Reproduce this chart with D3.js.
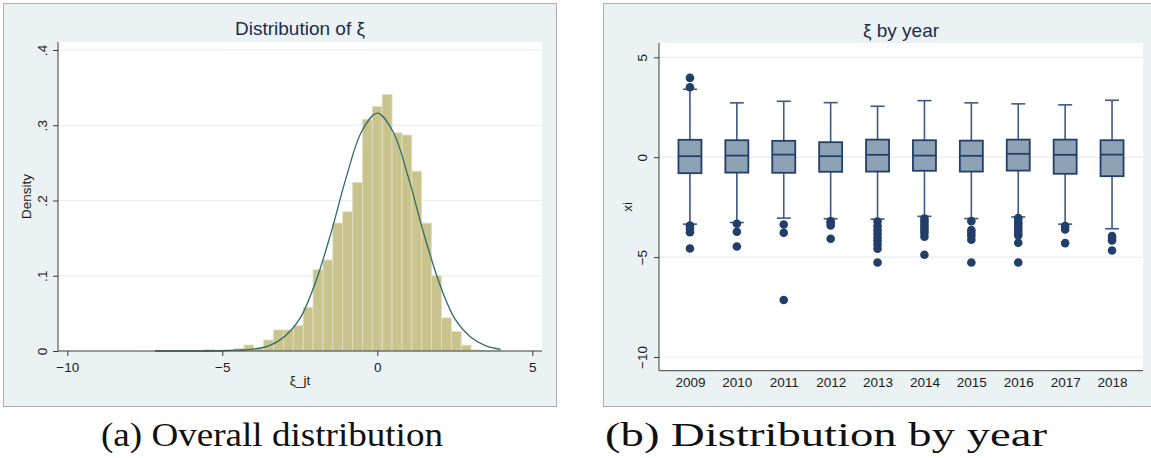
<!DOCTYPE html>
<html>
<head>
<meta charset="utf-8">
<script src="https://cdn.jsdelivr.net/npm/d3@7"></script>
<style>
  body { margin: 0; background: #ffffff; }
  svg { display: block; }
  text { font-family: "Liberation Sans", Arial, Helvetica, sans-serif; }
  text.caption { font-family: "Liberation Serif", "Times New Roman", serif; }
</style>
</head>
<body>
<svg id="fig" width="1151" height="458"></svg>
<script>
// ---------- Panel (a): histogram of xi with fitted normal density ----------
const binStart = -7.17;
const binWidth = 0.3186;
const binDensity = [
  0.001, 0, 0, 0, 0, 0.002, 0, 0.001, 0.0035, 0.008,
  0.003, 0.0146, 0.028, 0.028, 0.034, 0.058, 0.108, 0.121, 0.170, 0.185,
  0.224, 0.308, 0.325, 0.341, 0.290, 0.287, 0.239, 0.170, 0.100, 0.044,
  0.026, 0.0078, 0.0015, 0.0005, 0.0007
];
// fitted normal density, sampled along the x axis
const curveX = [-7.17, -6, -5, -4.5, -4, -3.5, -3, -2.5, -2, -1.5, -1, -0.5, 0, 0.5, 1, 1.5, 2, 2.5, 3, 3.5, 3.98];
const curveY = [0.0000, 0.0000, 0.0003, 0.0011, 0.0025, 0.0068, 0.019, 0.043, 0.0905, 0.156, 0.231, 0.292, 0.316, 0.292, 0.231, 0.156, 0.0905, 0.043, 0.019, 0.0068, 0.0023];
const histXTicks = [-10, -5, 0, 5];
const histYTicks = [0, 0.1, 0.2, 0.3, 0.4];
const histYTickLabels = ["0", ".1", ".2", ".3", ".4"];

// ---------- Panel (b): box plots of xi by year ----------
const years = ["2009", "2010", "2011", "2012", "2013", "2014", "2015", "2016", "2017", "2018"];
const upperWhisker = [3.40, 2.72, 2.80, 2.73, 2.55, 2.83, 2.72, 2.67, 2.62, 2.85];
const upperHinge   = [0.87, 0.85, 0.82, 0.75, 0.88, 0.85, 0.83, 0.88, 0.88, 0.85];
const medianXi     = [0.05, 0.08, 0.13, 0.05, 0.12, 0.08, 0.07, 0.17, 0.12, 0.13];
const lowerHinge   = [-0.80, -0.77, -0.78, -0.73, -0.72, -0.68, -0.72, -0.67, -0.83, -0.95];
const lowerWhisker = [-3.35, -3.27, -3.05, -3.08, -3.10, -2.96, -3.07, -2.99, -3.35, -3.58];
const outlierValues = [
  [3.97, 3.50, -3.42, -3.58, -3.75, -4.57],
  [-3.33, -3.73, -4.47],
  [-3.37, -3.78, -7.15],
  [-3.20, -3.28, -3.42, -4.08],
  [-3.22, -3.45, -3.65, -3.85, -4.02, -4.18, -4.37, -4.58, -5.27],
  [-3.07, -3.20, -3.35, -3.50, -3.65, -3.80, -3.98, -4.88],
  [-3.20, -3.65, -3.80, -3.93, -4.13, -5.27],
  [-3.05, -3.18, -3.30, -3.42, -3.55, -3.68, -3.82, -3.92, -4.28, -5.27],
  [-3.45, -3.62, -4.30],
  [-3.95, -4.05, -4.17, -4.67]
];
const boxYTicks = [5, 0, -5, -10];

// ---------- styling ----------
const regionFill = "#eaf2f3";
const gridColor = "#e6eeef";
const axisColor = "#3a3a3a";
const titleColor = "#1e2b4d";
const barFill = "#c9c48d";
const barEdge = "#e3e0c2";
const curveColor = "#2f6b68";
const boxFill = "#8ea2b6";
const navy = "#213f68";
const whiskerColor = "#3e5a80";

const svg = d3.select("#fig");

// ---------- Panel (a) ----------
const A = { left: 58, right: 542, top: 42, bottom: 351 };
const gA = svg.append("g");
gA.append("rect").attr("x", 3.5).attr("y", 3.5).attr("width", 553).attr("height", 403)
  .attr("fill", regionFill).attr("stroke", "#a9b0b3").attr("stroke-width", 1);
gA.append("rect").attr("x", A.left).attr("y", A.top).attr("width", A.right - A.left).attr("height", A.bottom - A.top)
  .attr("fill", "#ffffff");

const xA = d3.scaleLinear().domain([-10, 5]).range([67.3, 532.3]);
const yA = d3.scaleLinear().domain([0, 0.4]).range([A.bottom, 50]);

// horizontal grid
gA.append("g").selectAll("line").data(histYTicks.filter(d => d > 0)).join("line")
  .attr("x1", A.left).attr("x2", A.right)
  .attr("y1", d => yA(d)).attr("y2", d => yA(d))
  .attr("stroke", gridColor).attr("stroke-width", 1.2);

// histogram bars
const bins = binDensity.map((d, i) => ({ x0: binStart + i * binWidth, x1: binStart + (i + 1) * binWidth, d }))
  .filter(b => b.d > 0);
gA.append("g").selectAll("rect").data(bins).join("rect")
  .attr("x", b => xA(b.x0))
  .attr("width", b => xA(b.x1) - xA(b.x0))
  .attr("y", b => yA(b.d))
  .attr("height", b => yA(0) - yA(b.d))
  .attr("fill", barFill)
  .attr("stroke", barEdge).attr("stroke-width", 0.8);

// normal density curve
const curvePts = curveX.map((x, i) => [x, curveY[i]]);
gA.append("path").datum(curvePts)
  .attr("d", d3.line().x(p => xA(p[0])).y(p => yA(p[1])).curve(d3.curveCatmullRom.alpha(0.5)))
  .attr("fill", "none").attr("stroke", curveColor).attr("stroke-width", 1.3);

// axes
const axA_x = gA.append("g").attr("transform", `translate(0,${A.bottom})`)
  .call(d3.axisBottom(xA).tickValues(histXTicks).tickFormat(d3.format("d")).tickSize(5).tickSizeOuter(0));
const axA_y = gA.append("g").attr("transform", `translate(${A.left},0)`)
  .call(d3.axisLeft(yA).tickValues(histYTicks).tickFormat((d, i) => histYTickLabels[i]).tickSize(5).tickSizeOuter(0));
[axA_x, axA_y].forEach(ax => {
  ax.select(".domain").remove();
  ax.selectAll(".tick line").attr("stroke", axisColor);
  ax.selectAll(".tick text").attr("fill", "#1a1a1a").style("font-size", "13.5px");
});
axA_x.selectAll(".tick text").attr("dy", null).attr("y", 21);
axA_y.selectAll(".tick text")
  .attr("x", null).attr("dy", null).attr("y", null)
  .attr("text-anchor", "middle")
  .attr("transform", "translate(-11,0) rotate(-90)")
  .attr("dy", "0em");
gA.append("line").attr("x1", A.left).attr("x2", A.left).attr("y1", A.top).attr("y2", A.bottom).attr("stroke", axisColor);
gA.append("line").attr("x1", A.left).attr("x2", A.right).attr("y1", A.bottom).attr("y2", A.bottom).attr("stroke", axisColor);

gA.append("text").attr("x", (A.left + A.right) / 2).attr("y", 35).attr("text-anchor", "middle")
  .attr("fill", titleColor).style("font-size", "19px").text("Distribution of ξ");
gA.append("text").attr("x", (A.left + A.right) / 2).attr("y", 385).attr("text-anchor", "middle")
  .attr("fill", "#1a1a1a").style("font-size", "13.5px").text("ξ_jt");
gA.append("text").attr("transform", `translate(31,${(A.top + A.bottom) / 2}) rotate(-90)`).attr("text-anchor", "middle")
  .attr("fill", "#1a1a1a").style("font-size", "13.5px").text("Density");

// ---------- Panel (b) ----------
const B = { left: 659, right: 1143, top: 43, bottom: 370.7 };
const gB = svg.append("g");
gB.append("rect").attr("x", 603.5).attr("y", 3.5).attr("width", 560).attr("height", 403)
  .attr("fill", regionFill).attr("stroke", "#a9b0b3").attr("stroke-width", 1);
gB.append("rect").attr("x", B.left).attr("y", B.top).attr("width", B.right - B.left).attr("height", B.bottom - B.top)
  .attr("fill", "#ffffff");

const xB = d3.scalePoint().domain(years).range([B.left, B.right]).padding(0.66);
const yB = d3.scaleLinear().domain([-10, 5]).range([357, 57.3]);

gB.append("g").selectAll("line").data(boxYTicks).join("line")
  .attr("x1", B.left).attr("x2", B.right)
  .attr("y1", d => yB(d)).attr("y2", d => yB(d))
  .attr("stroke", gridColor).attr("stroke-width", 1.2);

const boxW = 23, capW = 14;
const boxes = years.map((yr, i) => ({
  yr, hi: upperWhisker[i], q3: upperHinge[i], med: medianXi[i], q1: lowerHinge[i], lo: lowerWhisker[i], out: outlierValues[i]
}));
const bg = gB.append("g").selectAll("g").data(boxes).join("g")
  .attr("transform", d => `translate(${xB(d.yr)},0)`);
// whiskers
bg.append("line").attr("x1", 0).attr("x2", 0).attr("y1", d => yB(d.hi)).attr("y2", d => yB(d.q3))
  .attr("stroke", whiskerColor).attr("stroke-width", 1.6);
bg.append("line").attr("x1", 0).attr("x2", 0).attr("y1", d => yB(d.q1)).attr("y2", d => yB(d.lo))
  .attr("stroke", whiskerColor).attr("stroke-width", 1.6);
bg.append("line").attr("x1", -capW / 2).attr("x2", capW / 2).attr("y1", d => yB(d.hi)).attr("y2", d => yB(d.hi))
  .attr("stroke", whiskerColor).attr("stroke-width", 1.6);
bg.append("line").attr("x1", -capW / 2).attr("x2", capW / 2).attr("y1", d => yB(d.lo)).attr("y2", d => yB(d.lo))
  .attr("stroke", whiskerColor).attr("stroke-width", 1.6);
// box
bg.append("rect").attr("x", -boxW / 2).attr("width", boxW)
  .attr("y", d => yB(d.q3)).attr("height", d => yB(d.q1) - yB(d.q3))
  .attr("fill", boxFill).attr("stroke", navy).attr("stroke-width", 1.8);
bg.append("line").attr("x1", -boxW / 2).attr("x2", boxW / 2).attr("y1", d => yB(d.med)).attr("y2", d => yB(d.med))
  .attr("stroke", navy).attr("stroke-width", 1.8);
// outside values
bg.selectAll("circle").data(d => d.out).join("circle")
  .attr("cx", 0).attr("cy", v => yB(v)).attr("r", 4.3).attr("fill", navy);

const axB_y = gB.append("g").attr("transform", `translate(${B.left},0)`)
  .call(d3.axisLeft(yB).tickValues(boxYTicks).tickFormat(d3.format("d")).tickSize(5).tickSizeOuter(0));
const axB_x = gB.append("g").attr("transform", `translate(0,${B.bottom})`)
  .call(d3.axisBottom(xB).tickSize(0).tickSizeOuter(0));
[axB_x, axB_y].forEach(ax => {
  ax.select(".domain").remove();
  ax.selectAll(".tick line").attr("stroke", axisColor);
  ax.selectAll(".tick text").attr("fill", "#1a1a1a").style("font-size", "13.5px");
});
axB_x.selectAll(".tick text").attr("dy", null).attr("y", 16);
axB_y.selectAll(".tick text")
  .attr("x", null).attr("dy", null).attr("y", null)
  .attr("text-anchor", "middle")
  .attr("transform", "translate(-12,0) rotate(-90)");
gB.append("line").attr("x1", B.left).attr("x2", B.left).attr("y1", B.top).attr("y2", B.bottom).attr("stroke", axisColor);
gB.append("line").attr("x1", B.left).attr("x2", B.right).attr("y1", B.bottom).attr("y2", B.bottom).attr("stroke", axisColor);

gB.append("text").attr("x", (B.left + B.right) / 2).attr("y", 37).attr("text-anchor", "middle")
  .attr("fill", titleColor).style("font-size", "19px").text("ξ by year");
gB.append("text").attr("transform", `translate(632,${(B.top + B.bottom) / 2}) rotate(-90)`).attr("text-anchor", "middle")
  .attr("fill", "#1a1a1a").style("font-size", "13.5px").text("xi");

// ---------- sub-captions ----------
svg.append("text").attr("class", "caption").attr("x", 272).attr("y", 446).attr("text-anchor", "middle")
  .style("font-size", "33px").attr("fill", "#111")
  .attr("textLength", 342).attr("lengthAdjust", "spacingAndGlyphs")
  .text("(a) Overall distribution");
svg.append("text").attr("class", "caption").attr("x", 826).attr("y", 446).attr("text-anchor", "middle")
  .style("font-size", "33px").attr("fill", "#111")
  .attr("textLength", 442).attr("lengthAdjust", "spacingAndGlyphs")
  .text("(b) Distribution by year");
</script>
</body>
</html>
